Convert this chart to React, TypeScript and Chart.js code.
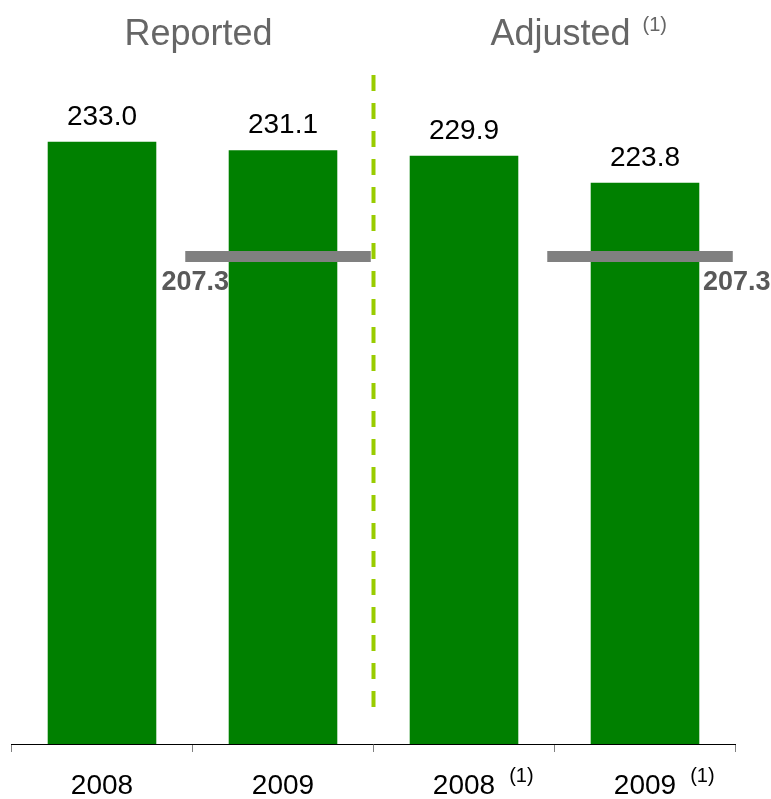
import React, { useEffect, useRef } from "react";
import { Chart, registerables } from "chart.js";

Chart.register(...registerables);

const FONT = '"Liberation Sans", Arial, Helvetica, sans-serif';

// ---- data ----
const categories = ["2008", "2009", "2008", "2009"];
const categoryFootnotes = ["", "", "(1)", "(1)"];
const values = [233.0, 231.1, 229.9, 223.8];
const benchmark: (number | null)[] = [null, 207.3, null, 207.3];
const benchmarkLabelSide = ["", "left", "", "right"];
const groupTitles = ["Reported", "Adjusted"];
const groupFootnotes = ["", "(1)"];
const groupRanges = [
  [0, 1],
  [2, 3],
];
const yMin = 98;
const yMax = 250;

const annotations = {
  id: "annotations",
  afterDatasetsDraw(chart: any) {
    const ctx = chart.ctx as CanvasRenderingContext2D;
    const xs = chart.scales.x;
    const ys = chart.scales.y;
    const area = chart.chartArea;
    const meta = chart.getDatasetMeta(0);
    const step = xs.getPixelForValue(1) - xs.getPixelForValue(0);
    ctx.save();

    // value labels above bars
    ctx.font = `28px ${FONT}`;
    ctx.fillStyle = "#000000";
    ctx.textAlign = "center";
    ctx.textBaseline = "alphabetic";
    meta.data.forEach((bar: any, i: number) => {
      ctx.fillText(values[i].toFixed(1), bar.x, bar.y - 17);
    });

    // benchmark lines
    benchmark.forEach((v, i) => {
      if (v == null) return;
      const cx = xs.getPixelForValue(i);
      const py = ys.getPixelForValue(v);
      const x0 = cx - step * 0.54;
      const x1 = cx + step * 0.485;
      ctx.strokeStyle = "#808080";
      ctx.lineWidth = 11;
      ctx.lineCap = "butt";
      ctx.beginPath();
      ctx.moveTo(x0, py);
      ctx.lineTo(x1, py);
      ctx.stroke();
      ctx.font = `bold 27px ${FONT}`;
      ctx.fillStyle = "#595959";
      ctx.textAlign = "center";
      const lx = benchmarkLabelSide[i] === "left" ? x0 + 10 : x1 + 4;
      ctx.fillText(v.toFixed(1), lx, py + 34);
    });

    // dashed divider between groups
    const divX = (xs.getPixelForValue(1) + xs.getPixelForValue(2)) / 2;
    ctx.strokeStyle = "#99cc00";
    ctx.lineWidth = 4;
    ctx.setLineDash([16, 12]);
    ctx.beginPath();
    ctx.moveTo(divX, area.top + 9);
    ctx.lineTo(divX, area.bottom - 36);
    ctx.stroke();
    ctx.setLineDash([]);

    // group titles
    groupTitles.forEach((t, g) => {
      const [a, b] = groupRanges[g];
      const cx = (xs.getPixelForValue(a) + xs.getPixelForValue(b)) / 2 + 6;
      ctx.font = `36px ${FONT}`;
      ctx.fillStyle = "#666666";
      ctx.textAlign = "center";
      ctx.fillText(t, cx, 45);
      if (groupFootnotes[g]) {
        const w = ctx.measureText(t).width;
        ctx.font = `20px ${FONT}`;
        ctx.textAlign = "left";
        ctx.fillText(groupFootnotes[g], cx + w / 2 + 12, 31);
      }
    });

    // category footnotes (superscripts on tick labels)
    categories.forEach((c, i) => {
      const fn = categoryFootnotes[i];
      if (!fn) return;
      const cx = xs.getPixelForValue(i);
      ctx.font = `28px ${FONT}`;
      const w = ctx.measureText(c).width;
      ctx.font = `20px ${FONT}`;
      ctx.fillStyle = "#000000";
      ctx.textAlign = "left";
      ctx.fillText(fn, cx + w / 2 + 14, area.bottom + 38);
    });

    ctx.restore();
  },
};

export default function App() {
  const ref = useRef<HTMLCanvasElement>(null);
  useEffect(() => {
    document.body.style.margin = "0";
    if (!ref.current) return;
    const chart = new Chart(ref.current, {
      type: "bar",
      data: {
        labels: categories,
        datasets: [
          {
            data: values,
            backgroundColor: "#008000",
            borderWidth: 0,
            barPercentage: 0.6,
            categoryPercentage: 1.0,
          },
        ],
      },
      options: {
        animation: false,
        responsive: true,
        maintainAspectRatio: false,
        layout: { padding: { top: 66, left: 11.5, right: 35.5, bottom: -21 } },
        plugins: {
          legend: { display: false },
          tooltip: { enabled: false },
          title: { display: false },
        },
        scales: {
          x: {
            grid: {
              display: true,
              drawOnChartArea: false,
              drawTicks: true,
              tickLength: 8,
              color: "#808080",
              offset: true,
              lineWidth: 1,
            },
            border: { display: true, color: "#000000", width: 1 },
            ticks: {
              font: { size: 28, family: FONT, lineHeight: 1 },
              color: "#000000",
              padding: 20,
              maxRotation: 0,
              autoSkip: false,
            },
          },
          y: { display: false, min: yMin, max: yMax },
        },
      },
      plugins: [annotations],
    });
    return () => chart.destroy();
  }, []);
  return (
    <div style={{ width: 771, height: 799, position: "relative" }}>
      <canvas ref={ref} />
    </div>
  );
}
